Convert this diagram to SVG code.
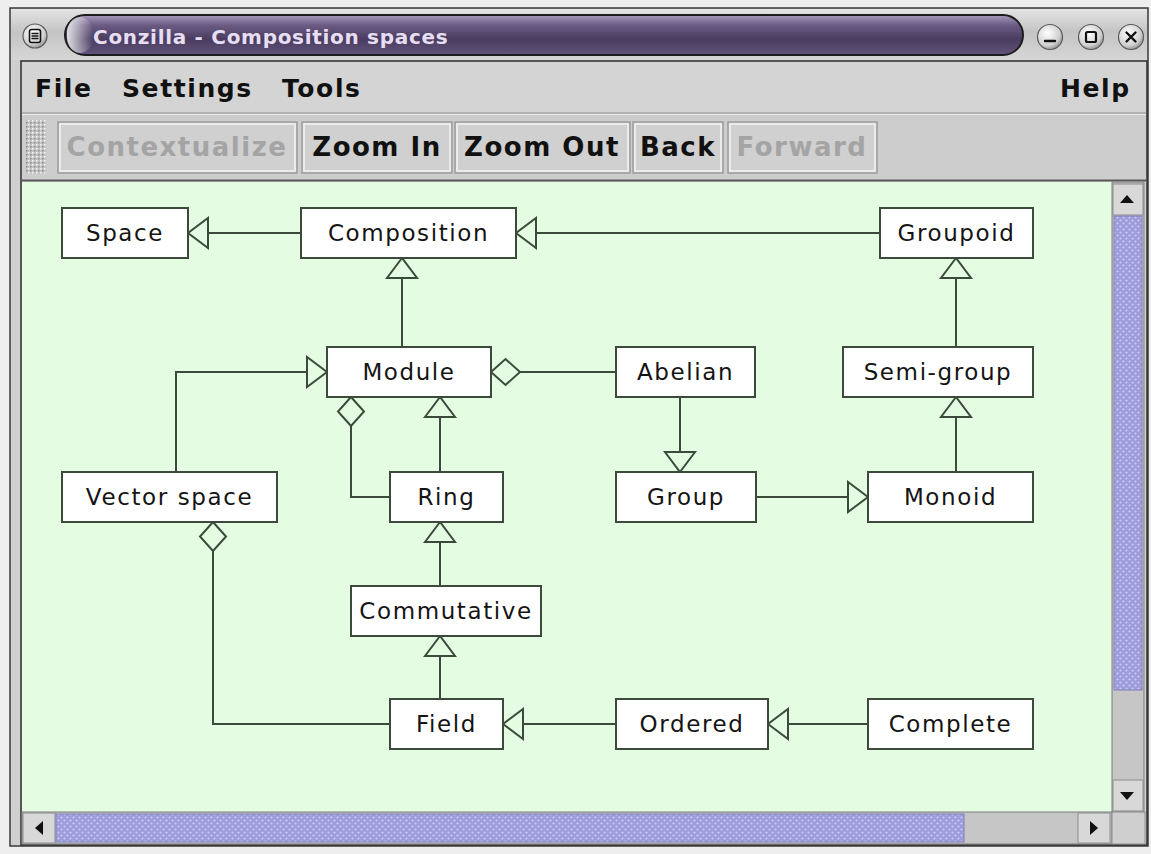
<svg xmlns="http://www.w3.org/2000/svg" width="1151" height="854" viewBox="0 0 1151 854">
  <defs>
    <style>
      .box { fill: #ffffff; stroke: #3b4a3b; stroke-width: 2; }
      .lbl { font-family: "DejaVu Sans", "Noto Sans", sans-serif; font-size: 23px; letter-spacing: 1.6px; text-anchor: middle; fill: #141414; }
      .edge { fill: none; stroke: #3b4a3b; stroke-width: 2; }
      .menu { font-family: "DejaVu Sans", "Noto Sans", sans-serif; font-size: 25px; font-weight: bold; letter-spacing: 1.6px; fill: #111111; }
      .tool { font-family: "DejaVu Sans", "Noto Sans", sans-serif; font-size: 26px; font-weight: bold; letter-spacing: 1.5px; text-anchor: middle; fill: #111111; }
      .tool.off { fill: #a4a4a4; }
      .btn-out { fill: #d0d0d0; stroke: #9c9c9c; stroke-width: 1.5; }
      .btn-in { fill: none; stroke: #f4f4f4; stroke-width: 1.5; }
      .sbtn { fill: #d8d8d8; stroke: #8c8c8c; stroke-width: 1; }
      .knob { stroke: #5a5a5a; stroke-width: 1.2; fill: url(#knobFill); }
      .glyph { fill: none; stroke: #111; stroke-width: 2.4; stroke-linecap: round; }
    </style>
    <linearGradient id="titleBar" x1="0" y1="0" x2="0" y2="1">
      <stop offset="0" stop-color="#e4e4e4"/>
      <stop offset="0.45" stop-color="#c4c4c4"/>
      <stop offset="1" stop-color="#d6d6d6"/>
    </linearGradient>
    <linearGradient id="pill" x1="0" y1="0" x2="0" y2="1">
      <stop offset="0" stop-color="#a89cbc"/>
      <stop offset="0.25" stop-color="#6c5c84"/>
      <stop offset="0.6" stop-color="#4a3c60"/>
      <stop offset="1" stop-color="#62547a"/>
    </linearGradient>
    <linearGradient id="pillCap" x1="0" y1="0" x2="1" y2="0">
      <stop offset="0" stop-color="#f0f0f0" stop-opacity="0.9"/>
      <stop offset="1" stop-color="#f0f0f0" stop-opacity="0"/>
    </linearGradient>
    <radialGradient id="knobFill" cx="0.4" cy="0.35" r="0.7">
      <stop offset="0" stop-color="#ffffff"/>
      <stop offset="0.7" stop-color="#d0d0d0"/>
      <stop offset="1" stop-color="#8a8a8a"/>
    </radialGradient>
    <pattern id="dots" width="6" height="6" patternUnits="userSpaceOnUse">
      <rect width="6" height="6" fill="#9c9cdc"/>
      <circle cx="1.5" cy="1.5" r="1.1" fill="#cbcbf5"/>
      <circle cx="4.5" cy="4.5" r="1.1" fill="#cbcbf5"/>
    </pattern>
    <pattern id="grip" width="4" height="4" patternUnits="userSpaceOnUse">
      <rect width="4" height="4" fill="#c4c4c4"/>
      <rect x="0" y="0" width="1.5" height="1.5" fill="#f4f4f4"/>
      <rect x="2" y="2" width="1.5" height="1.5" fill="#8c8c8c"/>
    </pattern>
    <!-- open triangle: generalisation head, apex at path end -->
    <marker id="tri" markerUnits="userSpaceOnUse" viewBox="-22 -17 24 34" markerWidth="24" markerHeight="34" refX="0" refY="0" orient="auto">
      <path d="M0,0 L-20,-15 L-20,15 Z" fill="#e4fce2" stroke="#3b4a3b" stroke-width="2" stroke-linejoin="miter"/>
    </marker>
    <!-- open diamond: aggregation head, at path start -->
    <marker id="dia" markerUnits="userSpaceOnUse" viewBox="-2 -15 33 30" markerWidth="33" markerHeight="30" refX="0" refY="0" orient="auto">
      <path d="M0,0 L14.5,-13 L29,0 L14.5,13 Z" fill="#e4fce2" stroke="#3b4a3b" stroke-width="2"/>
    </marker>
  </defs>

  <!-- window frame -->
  <rect x="0" y="0" width="1151" height="854" fill="#eeeeee"/>
  <rect x="10" y="8" width="1138" height="838" fill="#cfcfcf" stroke="#3a3a3a" stroke-width="1.5"/>

  <!-- title bar -->
  <g id="titlebar">
    <rect x="11" y="9" width="1136" height="51" fill="url(#titleBar)"/>
    <rect x="65" y="15" width="958" height="40" rx="20" fill="url(#pill)" stroke="#1c1c1c" stroke-width="2"/>
    <rect x="67" y="17" width="26" height="36" rx="16" fill="url(#pillCap)"/>
    <text x="93" y="44" font-family="DejaVu Sans, sans-serif" font-size="20" font-weight="bold" letter-spacing="0.7" fill="#e6def2">Conzilla - Composition spaces</text>
    <circle class="knob" cx="35" cy="36" r="12"/>
    <rect x="29.5" y="29.5" width="11" height="13" rx="2" fill="none" stroke="#111" stroke-width="1.6"/>
    <path d="M31.5,33.5 H38.5 M31.5,36 H38.5 M31.5,38.5 H38.5" stroke="#111" stroke-width="1.3"/>
    <circle class="knob" cx="1050" cy="37" r="12.5"/>
    <path class="glyph" d="M1045,41 H1055"/>
    <circle class="knob" cx="1091" cy="37" r="12.5"/>
    <rect x="1086" y="32" width="10" height="10" rx="1.5" fill="none" stroke="#111" stroke-width="2.2"/>
    <circle class="knob" cx="1131" cy="37" r="12.5"/>
    <path class="glyph" d="M1126.5,32.5 L1135.5,41.5 M1135.5,32.5 L1126.5,41.5"/>
  </g>

  <!-- content panel -->
  <rect x="21" y="61" width="1126" height="784" fill="#d4d4d4" stroke="#2e2e2e" stroke-width="1.5"/>

  <!-- menu bar -->
  <g id="menubar">
    <line x1="22" y1="113" x2="1146" y2="113" stroke="#a6a6a6" stroke-width="1.5"/>
    <line x1="22" y1="114.5" x2="1146" y2="114.5" stroke="#ececec" stroke-width="1"/>
    <text class="menu" x="35" y="97">File</text>
    <text class="menu" x="122" y="97">Settings</text>
    <text class="menu" x="282" y="97" letter-spacing="3">Tools</text>
    <text class="menu" x="1060" y="97">Help</text>
  </g>

  <!-- toolbar -->
  <g id="toolbar">
    <rect x="22" y="115" width="1124" height="65" fill="#cdcdcd"/>
    <rect x="26" y="120" width="20" height="54" fill="url(#grip)"/>
    <rect class="btn-out" x="58" y="122" width="239" height="51"/>
    <rect class="btn-in" x="60" y="124" width="235" height="47"/>
    <text class="tool off" x="177" y="156">Contextualize</text>
    <rect class="btn-out" x="302" y="122" width="150" height="51"/>
    <rect class="btn-in" x="304" y="124" width="146" height="47"/>
    <text class="tool" x="377" y="156">Zoom In</text>
    <rect class="btn-out" x="455" y="122" width="175" height="51"/>
    <rect class="btn-in" x="457" y="124" width="171" height="47"/>
    <text class="tool" x="542" y="156">Zoom Out</text>
    <rect class="btn-out" x="633" y="122" width="90" height="51"/>
    <rect class="btn-in" x="635" y="124" width="86" height="47"/>
    <text class="tool" x="678" y="156">Back</text>
    <rect class="btn-out" x="728" y="122" width="149" height="51"/>
    <rect class="btn-in" x="730" y="124" width="145" height="47"/>
    <text class="tool off" x="802" y="156">Forward</text>
    <line x1="22" y1="180.5" x2="1146" y2="180.5" stroke="#5a5a5a" stroke-width="2"/>
  </g>

  <!-- map canvas -->
  <rect x="22" y="182" width="1090" height="630" fill="#e4fce2"/>

  <!-- connectors -->
  <g id="connectors">
    <path class="edge" d="M301,233 H188" marker-end="url(#tri)"/>
    <path class="edge" d="M880,233 H516" marker-end="url(#tri)"/>
    <path class="edge" d="M402,347 V258" marker-end="url(#tri)"/>
    <path class="edge" d="M176,472 V372 H327" marker-end="url(#tri)"/>
    <path class="edge" d="M491,372 H616" marker-start="url(#dia)"/>
    <path class="edge" d="M440,472 V397" marker-end="url(#tri)"/>
    <path class="edge" d="M351,397 V497 H390" marker-start="url(#dia)"/>
    <path class="edge" d="M680,397 V472" marker-end="url(#tri)"/>
    <path class="edge" d="M756,497 H868" marker-end="url(#tri)"/>
    <path class="edge" d="M956,472 V397" marker-end="url(#tri)"/>
    <path class="edge" d="M956,347 V258" marker-end="url(#tri)"/>
    <path class="edge" d="M440,586 V522" marker-end="url(#tri)"/>
    <path class="edge" d="M440,699 V636" marker-end="url(#tri)"/>
    <path class="edge" d="M213,522 V724 H390" marker-start="url(#dia)"/>
    <path class="edge" d="M616,724 H503" marker-end="url(#tri)"/>
    <path class="edge" d="M868,724 H768" marker-end="url(#tri)"/>
  </g>

  <!-- concepts -->
  <g id="space"><rect class="box" x="62" y="208" width="126" height="50"/><text class="lbl" x="125" y="241">Space</text></g>
  <g id="composition"><rect class="box" x="301" y="208" width="215" height="50"/><text class="lbl" x="408.5" y="241">Composition</text></g>
  <g id="groupoid"><rect class="box" x="880" y="208" width="153" height="50"/><text class="lbl" x="956.5" y="241">Groupoid</text></g>
  <g id="module"><rect class="box" x="327" y="347" width="164" height="50"/><text class="lbl" x="409" y="380">Module</text></g>
  <g id="abelian"><rect class="box" x="616" y="347" width="139" height="50"/><text class="lbl" x="685.5" y="380">Abelian</text></g>
  <g id="semi-group"><rect class="box" x="843" y="347" width="190" height="50"/><text class="lbl" x="938" y="380">Semi-group</text></g>
  <g id="vector-space"><rect class="box" x="62" y="472" width="215" height="50"/><text class="lbl" x="169.5" y="505">Vector space</text></g>
  <g id="ring"><rect class="box" x="390" y="472" width="113" height="50"/><text class="lbl" x="446.5" y="505">Ring</text></g>
  <g id="group"><rect class="box" x="616" y="472" width="140" height="50"/><text class="lbl" x="686" y="505">Group</text></g>
  <g id="monoid"><rect class="box" x="868" y="472" width="165" height="50"/><text class="lbl" x="950.5" y="505">Monoid</text></g>
  <g id="commutative"><rect class="box" x="351" y="586" width="190" height="50"/><text class="lbl" x="446" y="619">Commutative</text></g>
  <g id="field"><rect class="box" x="390" y="699" width="113" height="50"/><text class="lbl" x="446.5" y="732">Field</text></g>
  <g id="ordered"><rect class="box" x="616" y="699" width="152" height="50"/><text class="lbl" x="692" y="732">Ordered</text></g>
  <g id="complete"><rect class="box" x="868" y="699" width="165" height="50"/><text class="lbl" x="950.5" y="732">Complete</text></g>

  <!-- vertical scrollbar -->
  <g id="vscroll">
    <rect x="1112" y="182" width="32" height="630" fill="#c6c6c6" stroke="#7a7a7a" stroke-width="1"/>
    <rect class="sbtn" x="1113" y="184" width="30" height="31"/>
    <path d="M1120,203 L1134,203 L1127,195 Z" fill="#111"/>
    <rect x="1114" y="216" width="28" height="474" fill="url(#dots)" stroke="#8080b8" stroke-width="1"/>
    <rect class="sbtn" x="1113" y="780" width="30" height="31"/>
    <path d="M1120,792 L1134,792 L1127,800 Z" fill="#111"/>
  </g>

  <!-- horizontal scrollbar -->
  <g id="hscroll">
    <rect x="22" y="812" width="1090" height="32" fill="#c6c6c6" stroke="#7a7a7a" stroke-width="1"/>
    <rect class="sbtn" x="23" y="813" width="32" height="30"/>
    <path d="M43,821 L43,835 L35,828 Z" fill="#111"/>
    <rect x="56" y="814" width="908" height="28" fill="url(#dots)" stroke="#8080b8" stroke-width="1"/>
    <rect class="sbtn" x="1078" y="813" width="32" height="30"/>
    <path d="M1090,821 L1090,835 L1098,828 Z" fill="#111"/>
    <rect x="1112" y="812" width="33" height="32" fill="#cfcfcf" stroke="#8c8c8c" stroke-width="1"/>
  </g>
</svg>
